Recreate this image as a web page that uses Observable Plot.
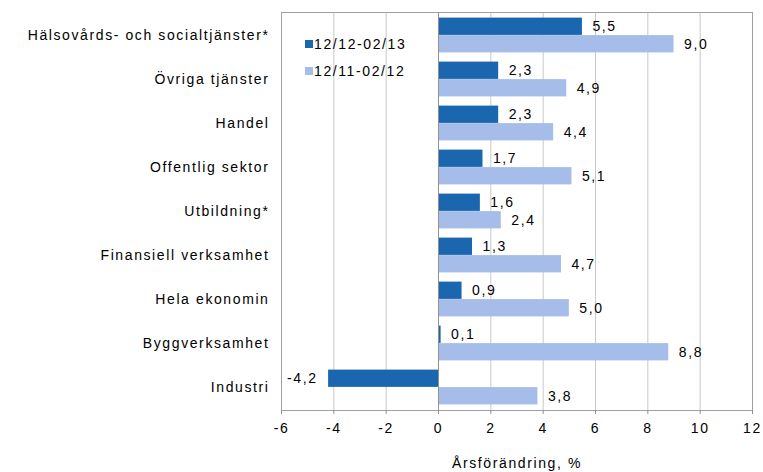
<!DOCTYPE html>
<html>
<head>
<meta charset="utf-8">
<script src="https://cdn.jsdelivr.net/npm/d3@7"></script>
<script src="https://cdn.jsdelivr.net/npm/@observablehq/plot@0.6"></script>
<style>
  body { margin: 0; background: #fff; }
  #wrap { position: relative; width: 763px; height: 472px; font-family: "Liberation Sans", Arial, sans-serif; }
  #wrap svg text { letter-spacing: 1.6px; }
  .legend { position: absolute; left: 305px; font-size: 14px; letter-spacing: 1.6px; color: #000; display: flex; align-items: center; }
  .legend span.sw { display: inline-block; width: 8px; height: 8px; margin-right: 1px; }
</style>
</head>
<body>
<div id="wrap"></div>
<script>
const categories = ["Hälsovårds- och socialtjänster*", "Övriga tjänster", "Handel", "Offentlig sektor", "Utbildning*", "Finansiell verksamhet", "Hela ekonomin", "Byggverksamhet", "Industri"];
const seriesNames = ["12/12-02/13", "12/11-02/12"];
const values1213 = [5.5, 2.3, 2.3, 1.7, 1.6, 1.3, 0.9, 0.1, -4.2];
const values1112 = [9.0, 4.9, 4.4, 5.1, 2.4, 4.7, 5.0, 8.8, 3.8];
const xTicks = [-6, -4, -2, 0, 2, 4, 6, 8, 10, 12];
const colors = ["#1a67b0", "#a7bde9"];

const d1 = categories.map((c, i) => ({cat: c, v: values1213[i]}));
const d2 = categories.map((c, i) => ({cat: c, v: values1112[i]}));
const fmt = v => v.toFixed(1).replace(".", ",");

const band = 398 / 9;
const outer = 4.6;
const barH = (band - 2 * outer) / 2;

const chart = Plot.plot({
  width: 763,
  height: 472,
  marginLeft: 281,
  marginRight: 11,
  marginTop: 12,
  marginBottom: 62,
  style: {fontFamily: "Liberation Sans, Arial, sans-serif", fontSize: "14px", color: "#000", background: "#fff"},
  x: {domain: [-6, 12], ticks: xTicks},
  y: {domain: categories, padding: 0},
  marks: [
    Plot.gridX(xTicks, {stroke: "#c8c8c8", strokeOpacity: 1, strokeWidth: 1}),
    Plot.frame({stroke: "#a0a0a0"}),
    Plot.barX(d1, {x: "v", y: "cat", fill: colors[0], insetTop: outer, insetBottom: band - outer - barH}),
    Plot.barX(d2, {x: "v", y: "cat", fill: colors[1], insetTop: outer + barH, insetBottom: outer}),
    Plot.ruleX([0], {stroke: "#909090"}),
    Plot.text(d1.filter(d => d.v >= 0), {x: "v", y: "cat", text: d => fmt(d.v), dy: -barH / 2, dx: 10, textAnchor: "start", fontSize: 14, fill: "#000"}),
    Plot.text(d1.filter(d => d.v < 0), {x: "v", y: "cat", text: d => fmt(d.v), dy: -barH / 2, dx: -11, textAnchor: "end", fontSize: 14, fill: "#000"}),
    Plot.text(d2, {x: "v", y: "cat", text: d => fmt(d.v), dy: barH / 2, dx: 10, textAnchor: "start", fontSize: 14, fill: "#000"}),
    Plot.axisY({tickSize: 0, tickPadding: 12, label: null, fontSize: 14}),
    Plot.axisX(xTicks, {tickSize: 4, tickPadding: 9, stroke: "#909090", tickFormat: d => String(d), label: "Årsförändring, %", labelAnchor: "center", labelArrow: "none", labelOffset: 57, fontSize: 14})
  ]
});

document.getElementById("wrap").appendChild(chart);

const lg = [[seriesNames[0], colors[0], 36], [seriesNames[1], colors[1], 63]];
for (const [name, col, top] of lg) {
  const div = document.createElement("div");
  div.className = "legend";
  div.style.top = top + "px";
  div.innerHTML = `<span class="sw" style="background:${col}"></span>${name}`;
  document.getElementById("wrap").appendChild(div);
}
</script>
</body>
</html>
